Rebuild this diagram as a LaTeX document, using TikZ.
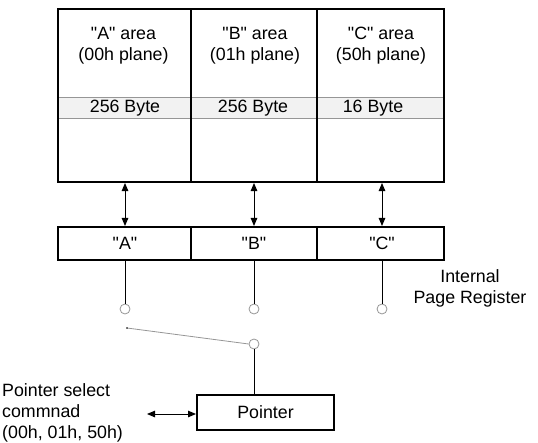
\documentclass[tikz,border=0pt]{standalone}
\usepackage{fontspec}
\setmainfont{Liberation Sans}[Ligatures=TeXOff]
\usetikzlibrary{arrows.meta}
\definecolor{bandgray}{RGB}{242,242,242}
\definecolor{linegray}{RGB}{150,150,150}
\tikzset{
  box/.style={draw=black, line width=2bp, rectangle, inner sep=0pt, anchor=north west},
  lbl/.style={font=\fontsize{17.8bp}{21bp}\selectfont, align=center, inner sep=0pt},
  dbl/.style={line width=1bp, {Triangle[length=8bp,width=6.5bp]}-{Triangle[length=8bp,width=6.5bp]}},
  wire/.style={line width=1bp},
  contact/.style={circle, draw=linegray, line width=0.8bp, minimum size=10bp, inner sep=0pt, fill=white},
}
\begin{document}
\begin{tikzpicture}[x=1bp, y=-1bp]
\useasboundingbox (0,0) rectangle (538,443);
% shaded band
\fill[bandgray] (57,97) rectangle (443,118);
\draw[linegray, line width=0.8bp] (57,97) -- (443,97) (57,118) -- (443,118);
% area columns
\node[box, minimum width=133bp, minimum height=173bp] (areaA) at (57,8) {};
\node[box, minimum width=126bp, minimum height=173bp] (areaB) at (190,8) {};
\node[box, minimum width=127bp, minimum height=173bp] (areaC) at (316,8) {};
\node[lbl] (tA) at (123.5,46) {"A" area\\(00h plane)};
\node[lbl] (tB) at (255,46) {"B" area\\(01h plane)};
\node[lbl] (tC) at (381,46) {"C" area\\(50h plane)};
\node[lbl] (sA) at (125,108) {256 Byte};
\node[lbl] (sB) at (253,108) {256 Byte};
\node[lbl] (sC) at (373,108) {16 Byte};
% register
\node[box, minimum width=133bp, minimum height=33bp] (regA) at (57,226) {};
\node[box, minimum width=126bp, minimum height=33bp] (regB) at (190,226) {};
\node[box, minimum width=127bp, minimum height=33bp] (regC) at (316,226) {};
\node[lbl] (rA) at (125,243) {"A"};
\node[lbl] (rB) at (254,243) {"B"};
\node[lbl] (rC) at (382,243) {"C"};
\node[lbl] (ipr) at (470,288) {Internal\\Page Register};
% contacts
\node[contact] (cA) at (125,309) {};
\node[contact] (cB) at (254,309) {};
\node[contact] (cC) at (382,309) {};
% double arrows
\draw[dbl] (areaA.south -| cA) -- (regA.north -| cA);
\draw[dbl] (areaB.south -| cB) -- (regB.north -| cB);
\draw[dbl] (areaC.south -| cC) -- (regC.north -| cC);
% wires to contacts
\draw[wire] (regA.south -| cA) -- (cA.north);
\draw[wire] (regB.south -| cB) -- (cB.north);
\draw[wire] (regC.south -| cC) -- (cC.north);
% switch
\coordinate (sw) at (127,328);
\node[contact] (cP) at (254,344) {};
\draw[linegray, line width=0.8bp] (sw) -- (cP.west);
\fill[black] (sw) circle (0.9bp);
% pointer
\node[box, minimum width=137bp, minimum height=35bp] (ptr) at (196,394) {};
\node[lbl] (ptrt) at (ptr.center) {Pointer};
\draw[wire] (cP.south) -- (cP.south |- ptr.north);
% pointer select
\node[lbl, align=left, anchor=west] (psel) at (2,413) {Pointer select\\commnad\\(00h, 01h, 50h)};
\coordinate (pselend) at (147,414);
\draw[dbl] (pselend) -- (ptr.west |- pselend);
\end{tikzpicture}
\end{document}
